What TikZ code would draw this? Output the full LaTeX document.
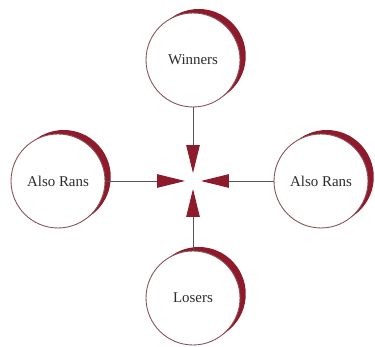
\documentclass[tikz,border=0pt]{standalone}
\usepackage{fontspec}
\setmainfont{Liberation Serif}
\usepackage{tikz}
\usepackage{xcolor}
\usetikzlibrary{arrows.meta,shadows}
\definecolor{Crescent}{HTML}{8E1B2C}
\definecolor{Rim}{HTML}{8A5057}
\definecolor{Wire}{HTML}{5A5555}
\definecolor{Ink}{HTML}{2E2A2A}

\begin{document}
\begin{tikzpicture}[
  x=0.02cm,y=-0.02cm,
  ring/.style={circle,draw=Rim,line width=0.5pt,fill=white,minimum size=1.88cm,inner sep=0pt,
    font=\fontsize{8.5}{10}\selectfont,text=Ink,
    drop shadow={shadow xshift=0.115cm,shadow yshift=0.08cm,fill=Crescent,opacity=1}},
  arrow/.style={-{Triangle[length=0.56cm,width=0.27cm,fill=Crescent,color=Crescent]},
    draw=Wire,line width=0.5pt,shorten >=0.16cm}
]
\useasboundingbox (0,0) rectangle (375,347);
\coordinate (hub) at (193,181);
\node[ring] (winners) at (193,60) {Winners};
\node[ring] (losers) at (193,298) {Losers};
\node[ring] (alsoL) at (58,181) {Also Rans};
\node[ring] (alsoR) at (321,181) {Also Rans};
\draw[arrow] (winners) -- (hub);
\draw[arrow] (losers) -- (hub);
\draw[arrow] (alsoL) -- (hub);
\draw[arrow] (alsoR) -- (hub);
\end{tikzpicture}
\end{document}
